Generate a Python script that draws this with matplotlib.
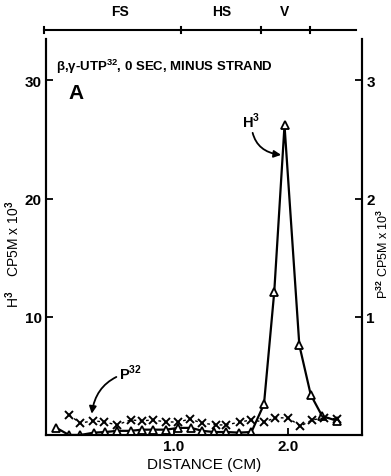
import numpy as np
import matplotlib
matplotlib.use('Agg')
import matplotlib.pyplot as plt

# H3 counts (left axis, CPM x 10^3)
h3_dist = [-0.03, 0.08, 0.18, 0.30, 0.40, 0.50, 0.62, 0.72, 0.82, 0.93, 1.04, 1.15,
           1.25, 1.35, 1.46, 1.57, 1.68, 1.79, 1.88, 1.97, 2.10, 2.20, 2.30, 2.43]
h3_cpm = [0.6, 0.0, 0.0, 0.2, 0.25, 0.35, 0.35, 0.45, 0.45, 0.45, 0.6, 0.6,
          0.35, 0.25, 0.25, 0.2, 0.25, 2.6, 12.1, 26.2, 7.6, 3.4, 1.6, 1.2]

# P32 counts (right axis, CPM x 10^3)
p32_dist = [0.08, 0.18, 0.29, 0.39, 0.50, 0.62, 0.72, 0.82, 0.93, 1.04, 1.14, 1.25,
            1.37, 1.46, 1.58, 1.68, 1.79, 1.89, 2.00, 2.11, 2.21, 2.32, 2.43]
p32_cpm = [0.17, 0.10, 0.12, 0.11, 0.085, 0.127, 0.12, 0.127, 0.11, 0.11, 0.135, 0.10,
           0.085, 0.085, 0.11, 0.127, 0.11, 0.145, 0.145, 0.075, 0.127, 0.145, 0.135]

region_edges = [-0.14, 1.06, 1.76, 2.19]
region_names = ['FS', 'HS', 'V']
region_centers = [0.53, 1.42, 1.97]

font = 'Liberation Sans'
plt.rcParams['font.family'] = font
plt.rcParams['font.weight'] = 'bold'
plt.rcParams['mathtext.fontset'] = 'custom'
plt.rcParams['mathtext.bf'] = 'Liberation Sans:bold'
plt.rcParams['mathtext.rm'] = 'Liberation Sans:bold'

fig = plt.figure(figsize=(3.91, 4.77), dpi=100)
ax = fig.add_axes([0.118, 0.086, 0.808, 0.83])
ax2 = ax.twinx()

ax.plot(h3_dist, h3_cpm, color='black', lw=1.6, marker='^', ms=6,
        mfc='white', mec='black', mew=1.3, zorder=3)
ax2.plot(p32_dist, p32_cpm, color='black', lw=1.0, ls=(0, (2, 2.5)), marker='x',
         ms=6, mew=1.4, zorder=3)

ax.set_xlim(-0.12, 2.65)
ax.set_ylim(0, 33.5)
ax2.set_ylim(0, 3.35)

ax.set_xticks([1.0, 2.0])
ax.set_xticklabels(['1.0', '2.0'])
ax.set_yticks([10, 20, 30])
ax2.set_yticks([1, 2, 3])
ax.tick_params(direction='in', length=5, width=1.3, labelsize=11, pad=3)
ax2.tick_params(direction='in', length=5, width=1.3, labelsize=11, pad=3)

for a in (ax, ax2):
    a.spines['top'].set_visible(False)
    for s in ['left', 'right', 'bottom']:
        a.spines[s].set_linewidth(1.5)

ax.set_xlabel('DISTANCE (CM)', fontsize=11, labelpad=3)
ax.set_ylabel('H$^{\\mathbf{3}}$    CP5M x 10$^{\\mathbf{3}}$', fontsize=10)
ax2.set_ylabel('P$^{\\mathbf{32}}$ CP5M x 10$^{\\mathbf{3}}$', fontsize=9)
ax.yaxis.set_label_coords(-0.075, 0.46)
ax2.yaxis.set_label_coords(1.045, 0.46)

ax.text(0.03, 0.955, '\u03b2,\u03b3-UTP$^{\\mathbf{32}}$, 0 SEC, MINUS STRAND',
        transform=ax.transAxes, fontsize=9.5, va='top')
ax.text(0.07, 0.89, 'A', transform=ax.transAxes, fontsize=15, va='top')

# region bar above the plot
y_bar = 1.023
ax.plot([region_edges[0], 2.6], [y_bar, y_bar], transform=ax.get_xaxis_transform(),
        color='black', lw=1.5, clip_on=False)
for e in region_edges:
    ax.plot([e, e], [y_bar - 0.008, y_bar + 0.008], transform=ax.get_xaxis_transform(),
            color='black', lw=1.5, clip_on=False)
for c, name in zip(region_centers, region_names):
    ax.text(c, y_bar + 0.03, name, transform=ax.get_xaxis_transform(),
            ha='center', va='bottom', fontsize=10)

# curved arrows
ax.annotate('H$^{\\mathbf{3}}$', xy=(1.94, 23.7), xytext=(1.6, 25.8), fontsize=10.5,
            ha='left', va='bottom',
            arrowprops=dict(arrowstyle='-|>', color='black', lw=1.3,
                            connectionstyle='arc3,rad=0.45', shrinkA=0, shrinkB=0))
ax2.annotate('P$^{\\mathbf{32}}$', xy=(0.28, 0.18), xytext=(0.52, 0.45), fontsize=10.5,
             ha='left', va='bottom',
             arrowprops=dict(arrowstyle='-|>', color='black', lw=1.3,
                             connectionstyle='arc3,rad=0.35', shrinkA=0, shrinkB=0))

plt.savefig('out.png', dpi=100)
